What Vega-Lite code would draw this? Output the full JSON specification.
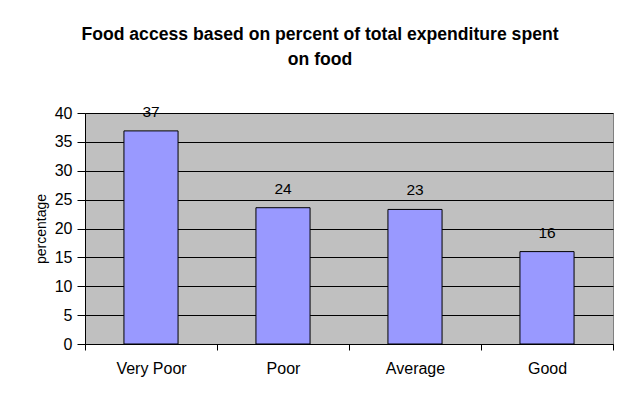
{
  "$schema": "https://vega.github.io/schema/vega-lite/v6.json",
  "autosize": "none",
  "width": 528,
  "height": 231,
  "padding": {"left": 85, "top": 113, "right": 9, "bottom": 52},
  "background": "white",
  "title": {
    "text": ["Food access based on percent of total expenditure spent", "on food"],
    "font": "Liberation Sans",
    "fontSize": 17.6,
    "fontWeight": "bold",
    "color": "black",
    "anchor": "middle",
    "dx": -29,
    "lineHeight": 25,
    "offset": 36
  },
  "data": {
    "values": [
      {"category": "Very Poor", "value": 36.9},
      {"category": "Poor", "value": 23.6},
      {"category": "Average", "value": 23.3},
      {"category": "Good", "value": 16.0}
    ]
  },
  "encoding": {
    "x": {
      "field": "category",
      "type": "nominal",
      "sort": null,
      "scale": {"paddingInner": 0, "paddingOuter": 0},
      "axis": {
        "title": null,
        "labelAngle": 0,
        "labelFont": "Liberation Sans",
        "labelFontSize": 16,
        "labelColor": "black",
        "labelPadding": 10,
        "domainColor": "black",
        "tickColor": "black",
        "tickSize": 6,
        "tickBand": "extent",
        "grid": false
      }
    },
    "y": {
      "field": "value",
      "type": "quantitative",
      "scale": {"domain": [0, 40]},
      "axis": {
        "title": "percentage",
        "titleFont": "Liberation Sans",
        "titleFontSize": 14,
        "titleFontWeight": "normal",
        "titleColor": "black",
        "titlePadding": 6,
        "values": [0, 5, 10, 15, 20, 25, 30, 35, 40],
        "labelFont": "Liberation Sans",
        "labelFontSize": 16,
        "labelColor": "black",
        "labelPadding": 5,
        "domainColor": "black",
        "tickColor": "black",
        "tickSize": 8,
        "grid": true,
        "gridColor": "black",
        "gridOpacity": 1,
        "gridWidth": 1
      }
    }
  },
  "layer": [
    {
      "mark": {"type": "bar", "width": {"band": 0.41}, "color": "#9999FF", "stroke": "black", "strokeWidth": 1}
    },
    {
      "mark": {"type": "text", "baseline": "alphabetic", "dy": -14, "font": "Liberation Sans", "fontSize": 15.5, "color": "black"},
      "encoding": {"text": {"field": "value", "type": "quantitative", "format": ".0f"}}
    }
  ],
  "config": {
    "view": {"fill": "#C0C0C0", "stroke": "#808080", "strokeWidth": 1}
  }
}
